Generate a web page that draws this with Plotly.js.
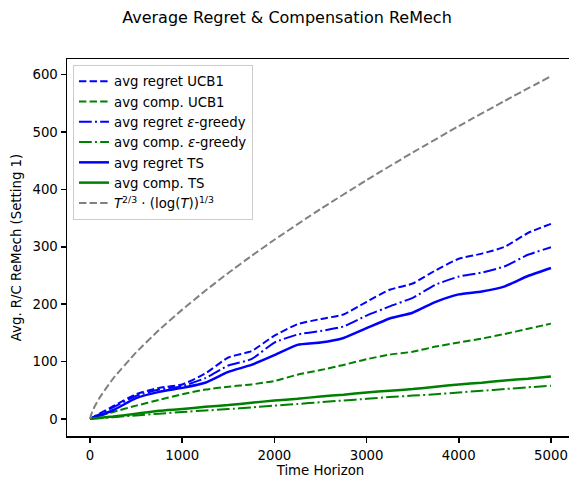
<!DOCTYPE html>
<html>
<head>
<meta charset="utf-8">
<script src="https://cdn.plot.ly/plotly-3.0.1.min.js"></script>
<style>
html, body { margin: 0; padding: 0; overflow: hidden; background: #fff; }
#chart { width: 574px; height: 490px; }
</style>
</head>
<body>
<div id="chart"></div>
<script>
// Time horizon grid
const T = [0, 250, 500, 750, 1000, 1250, 1500, 1750, 2000, 2250, 2500, 2750, 3000, 3250, 3500, 3750, 4000, 4250, 4500, 4750, 5000];

// Average regret / compensation
const regretUCB1 = [0, 22, 43, 54, 60, 79, 107, 118, 145, 165, 174, 182, 204, 225, 236, 259, 279, 288, 300, 324, 340];
const compUCB1   = [0, 12, 23, 33, 43, 51, 56, 60, 66, 77, 85, 94, 104, 112, 117, 126, 133, 140, 148, 157, 166];
const regretEps  = [0, 20, 40, 51, 57, 71, 93, 104, 133, 147, 153, 161, 180, 196, 211, 234, 248, 255, 266, 286, 299];
const compEps    = [0, 3, 6, 9, 12, 14.5, 17, 20, 23, 26, 29, 32, 35, 38, 40.5, 43, 46, 49, 52, 55, 57.6];
const regretTS   = [0, 15, 36, 47, 54, 63, 82, 94, 111, 129, 133, 141, 158, 175, 185, 204, 217, 222, 231, 249, 263];
const compTS     = [0, 4, 9, 14, 17, 21, 24, 28, 32, 35, 39, 42, 46, 49, 52, 56, 60, 63, 67, 70, 74];

// Reference bound curve
const boundT   = [1, 10, 25, 50, 100, 250, 500, 750, 1000, 1250, 1500, 1750, 2000, 2500, 3000, 3500, 4000, 4500, 5000];
const boundVal = [0, 6.1, 12.6, 21.4, 35.8, 70.2, 115.8, 155.1, 190.4, 223.3, 254.3, 283.9, 312.2, 365.8, 416.2, 464.3, 510.3, 554.5, 597.4];

const names = [
  'avg regret UCB1',
  'avg comp. UCB1',
  'avg regret <i>ε</i>-greedy',
  'avg comp. <i>ε</i>-greedy',
  'avg regret TS',
  'avg comp. TS',
  '<i>T</i><sup>2/3</sup> · (log(<i>T</i>))<sup>1/3</sup>'
];

const BLUE = '#0000ff', GREEN = '#008000', GRAY = '#808080';
const DASH = '7.4px,3.2px';
const DASHDOT = '12.8px,3.2px,2px,3.2px';

const mk = (x, y, name, color, dash, width, i) => ({
  x: x, y: y, name: name, type: 'scatter', mode: 'lines',
  legendgroup: 'g' + i,
  line: { color: color, dash: dash, width: width, shape: 'spline', smoothing: 0.5 }
});

const data = [
  mk(T, regretUCB1, names[0], BLUE, DASH, 2, 0),
  mk(T, compUCB1, names[1], GREEN, DASH, 2, 1),
  mk(T, regretEps, names[2], BLUE, DASHDOT, 2, 2),
  mk(T, compEps, names[3], GREEN, DASHDOT, 2, 3),
  mk(T, regretTS, names[4], BLUE, 'solid', 2.5, 4),
  mk(T, compTS, names[5], GREEN, 'solid', 2.5, 5),
  mk(boundT, boundVal, names[6], GRAY, DASH, 2, 6)
];

const FONT = 'DejaVu Sans, sans-serif';
const axisCommon = {
  showgrid: false, zeroline: false, showline: true, mirror: true,
  linecolor: '#000', linewidth: 1.5, ticks: 'outside', ticklen: 5, tickwidth: 1.5,
  tickcolor: '#000', tickfont: { family: FONT, size: 13.3, color: '#000' },
  automargin: false
};

const layout = {
  width: 574, height: 490,
  margin: { l: 67, r: 0, t: 59, b: 54 },
  paper_bgcolor: '#fff', plot_bgcolor: '#fff',
  font: { family: FONT, color: '#000' },
  title: {
    text: 'Average Regret & Compensation ReMech',
    font: { family: FONT, size: 16, color: '#000' },
    x: 0.5, xref: 'container', xanchor: 'center',
    y: 1 - 17 / 490, yref: 'container', yanchor: 'middle'
  },
  xaxis: Object.assign({}, axisCommon, {
    range: [-250, 5250], tickvals: [0, 1000, 2000, 3000, 4000, 5000],
    ticklabelstandoff: 2,
    title: { text: 'Time Horizon', font: { family: FONT, size: 13.3, color: '#000' }, standoff: 2 }
  }),
  yaxis: Object.assign({}, axisCommon, {
    range: [-29.9, 627.3], tickvals: [0, 100, 200, 300, 400, 500, 600],
    title: { text: 'Avg. R/C ReMech (Setting 1)', font: { family: FONT, size: 13.3, color: '#000' }, standoff: 8 }
  }),
  showlegend: true,
  legend: {
    x: 0.0118, y: 0.984, xanchor: 'left', yanchor: 'top',
    bgcolor: 'rgba(255,255,255,0.8)', bordercolor: '#cccccc', borderwidth: 1,
    font: { family: FONT, size: 13.3, color: '#000' },
    traceorder: 'grouped', tracegroupgap: 0
  }
};

Plotly.newPlot('chart', data, layout, { staticPlot: true, displayModeBar: false });
</script>
</body>
</html>
